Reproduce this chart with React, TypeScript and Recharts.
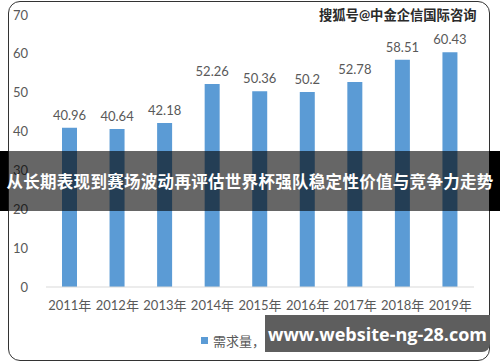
import { BarChart, Bar, XAxis, YAxis, LabelList } from 'recharts';

const years = ['2011年', '2012年', '2013年', '2014年', '2015年', '2016年', '2017年', '2018年', '2019年'];
const demand = [40.96, 40.64, 42.18, 52.26, 50.36, 50.2, 52.78, 58.51, 60.43];
const yTicks = [0, 10, 20, 30, 40, 50, 60, 70];

const data = years.map((year, i) => ({ year, demand: demand[i] }));

const font = "Lato, 'Noto Sans CJK SC', sans-serif";
const grey = '#595959';

export default function App() {
  return (
    <div
      style={{
        position: 'fixed',
        top: 0,
        left: 0,
        width: 500,
        height: 362,
        background: '#fff',
        overflow: 'hidden',
        fontFamily: font,
      }}
    >
      {/* rounded frame */}
      <div
        style={{
          position: 'absolute',
          left: 8,
          top: 1,
          width: 480,
          height: 358,
          border: '1.5px solid #333',
          borderRadius: 12,
        }}
      />

      <div style={{ position: 'absolute', left: 0, top: 0 }}>
        <BarChart
          width={500}
          height={362}
          data={data}
          margin={{ top: 15, right: 26, bottom: 45, left: 12 }}
          barSize={15}
        >
          <XAxis
            dataKey="year"
            axisLine={{ stroke: '#d9d9d9' }}
            tickLine={false}
            height={30}
            tick={{ fill: grey, fontSize: 13, fontFamily: font }}
            tickMargin={8}
            interval={0}
          />
          <YAxis
            domain={[0, 70]}
            ticks={yTicks}
            axisLine={false}
            tickLine={false}
            width={34}
            tick={{ fill: grey, fontSize: 13, fontFamily: font }}
            tickMargin={12}
          />
          <Bar dataKey="demand" fill="#5b9bd5" isAnimationActive={false}>
            <LabelList
              dataKey="demand"
              position="top"
              offset={8}
              fill={grey}
              fontSize={13}
              fontFamily={font}
            />
          </Bar>
        </BarChart>
      </div>

      {/* legend */}
      <div
        style={{
          position: 'absolute',
          left: 201,
          top: 331,
          display: 'flex',
          alignItems: 'center',
          gap: 5,
          fontSize: 13,
          color: grey,
        }}
      >
        <span style={{ width: 7, height: 7, background: '#5b9bd5', display: 'inline-block' }} />
        <span>需求量，万吨</span>
      </div>

      {/* watermark */}
      <div
        style={{
          position: 'absolute',
          left: 319,
          top: 5,
          fontSize: 13.3,
          fontWeight: 700,
          color: '#2a2a2a',
          textShadow: '0 0 2px #fff',
        }}
      >
        搜狐号@中金企信国际咨询
      </div>

      {/* banner */}
      <div
        style={{
          position: 'absolute',
          left: 0,
          top: 151,
          width: 500,
          height: 60,
          background: 'rgba(0,0,0,0.6)',
        }}
      />
      <div style={{ position: 'absolute', left: 0, top: 151, width: 8, height: 60, background: '#000' }} />
      <div style={{ position: 'absolute', left: 489, top: 151, width: 11, height: 60, background: '#000' }} />
      <div
        style={{
          position: 'absolute',
          left: 0,
          top: 151,
          width: 500,
          height: 60,
          display: 'flex',
          alignItems: 'center',
          justifyContent: 'center',
          color: '#fff',
          fontWeight: 700,
          fontSize: 16.5,
          letterSpacing: 0.3,
          whiteSpace: 'nowrap',
        }}
      >
        从长期表现到赛场波动再评估世界杯强队稳定性价值与竞争力走势
      </div>

      {/* url box */}
      <div
        style={{
          position: 'absolute',
          left: 265,
          top: 315,
          width: 225,
          height: 37,
          background: '#5e5e5e',
          borderBottomRightRadius: 8,
          display: 'flex',
          alignItems: 'center',
          justifyContent: 'center',
          color: '#fff',
          fontWeight: 700,
          fontSize: 18,
          fontFamily: "'Open Sans', sans-serif",
        }}
      >
        www.website-ng-28.com
      </div>
    </div>
  );
}
